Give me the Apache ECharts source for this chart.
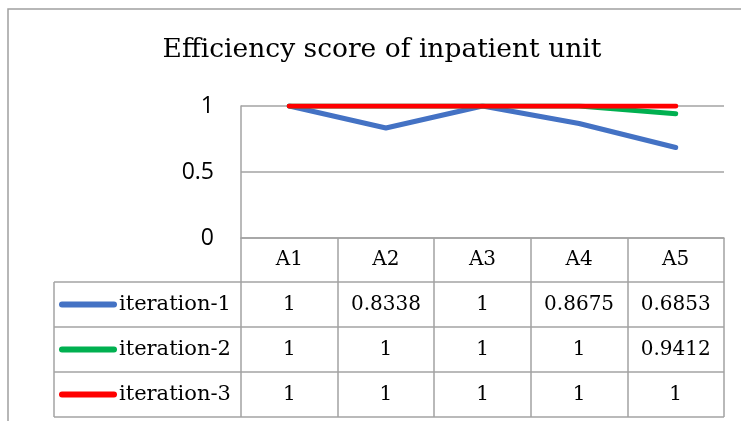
<!DOCTYPE html>
<html>
<head>
<meta charset="utf-8">
<script src="https://cdn.jsdelivr.net/npm/echarts@6/dist/echarts.min.js"></script>
<style>
html,body{margin:0;padding:0;background:#fff;}
#chart{width:741px;height:421px;}
</style>
</head>
<body>
<div id="chart"></div>
<script>
// ---- data ----
const titleText = 'Efficiency score of inpatient unit';
const categories = ['A1', 'A2', 'A3', 'A4', 'A5'];
const seriesNames = ['iteration-1', 'iteration-2', 'iteration-3'];
const iteration1 = [1, 0.8338, 1, 0.8675, 0.6853];
const iteration2 = [1, 1, 1, 1, 0.9412];
const iteration3 = [1, 1, 1, 1, 1];
const yTicks = [0, 0.5, 1];

// ---- style / layout ----
const colors = ['#4472C4', '#00B050', '#FF0000'];
const gridCol = '#a3a3a3';
const serif = 'DejaVu Serif';
const sans = 'Open Sans';
const W = 741, H = 421;
const plotLeft = 241, plotRight = 724, plotTop = 106, plotBottom = 238;
const headerH = 44, rowH = 45;
const tableLeft = 54;

const chart = echarts.init(document.getElementById('chart'), null, {renderer: 'canvas'});
const allSeries = [iteration1, iteration2, iteration3];

chart.setOption({
  animation: false,
  backgroundColor: '#fff',
  grid: {left: plotLeft, right: W - plotRight, top: plotTop, bottom: H - plotBottom, containLabel: false},
  xAxis: {
    type: 'category',
    data: categories,
    boundaryGap: true,
    axisLine: {show: true, lineStyle: {color: gridCol, width: 1.5}},
    axisTick: {show: true, interval: 0, length: headerH + rowH * 3, lineStyle: {color: gridCol, width: 1.5}},
    axisLabel: {fontFamily: serif, fontSize: 20, color: '#000', margin: headerH / 2, verticalAlign: 'middle', interval: 0}
  },
  yAxis: {
    type: 'value',
    min: yTicks[0],
    max: yTicks[yTicks.length - 1],
    interval: yTicks[1] - yTicks[0],
    axisLine: {show: true, lineStyle: {color: gridCol, width: 1.5}},
    axisTick: {show: false},
    axisLabel: {fontFamily: sans, fontSize: 23, color: '#000', margin: 27},
    splitLine: {show: true, lineStyle: {color: gridCol, width: 1.5}}
  },
  series: allSeries.map((d, i) => ({
    name: seriesNames[i],
    type: 'line',
    data: d,
    symbol: 'none',
    lineStyle: {color: colors[i], width: 5, cap: 'round', join: 'round'},
    z: 3 + i
  }))
});

// ---- table and decorations ----
const xc = categories.map(c => chart.convertToPixel({xAxisIndex: 0}, c));
const graphics = [];
// outer chart border (cropped at right and bottom)
graphics.push({type: 'polyline', shape: {points: [[8, H], [8, 9], [W, 9]]}, style: {stroke: '#a0a0a0', lineWidth: 1.5, fill: null}});
// title
graphics.push({type: 'text', x: 382, y: 50, style: {text: titleText, font: '26.5px "' + serif + '"', fill: '#000', textAlign: 'center', textVerticalAlign: 'middle'}});
// table horizontal lines
for (let r = 0; r <= 3; r++) {
  const y = plotBottom + headerH + rowH * r;
  graphics.push({type: 'line', shape: {x1: tableLeft, y1: y, x2: plotRight, y2: y}, style: {stroke: gridCol, lineWidth: 1.5}});
}
graphics.push({type: 'line', shape: {x1: tableLeft, y1: plotBottom + headerH, x2: tableLeft, y2: plotBottom + headerH + rowH * 3}, style: {stroke: gridCol, lineWidth: 1.5}});
// rows
allSeries.forEach((d, r) => {
  const yc = plotBottom + headerH + rowH * r + rowH / 2;
  graphics.push({type: 'line', shape: {x1: 62, y1: yc, x2: 114, y2: yc}, style: {stroke: colors[r], lineWidth: 6, lineCap: 'round'}});
  graphics.push({type: 'text', x: 119, y: yc, style: {text: seriesNames[r], font: '21px "' + serif + '"', fill: '#000', textAlign: 'left', textVerticalAlign: 'middle'}});
  d.forEach((v, i) => {
    graphics.push({type: 'text', x: xc[i], y: yc, style: {text: String(v), font: '20px "' + serif + '"', fill: '#000', textAlign: 'center', textVerticalAlign: 'middle'}});
  });
});
chart.setOption({graphic: graphics});
</script>
</body>
</html>
